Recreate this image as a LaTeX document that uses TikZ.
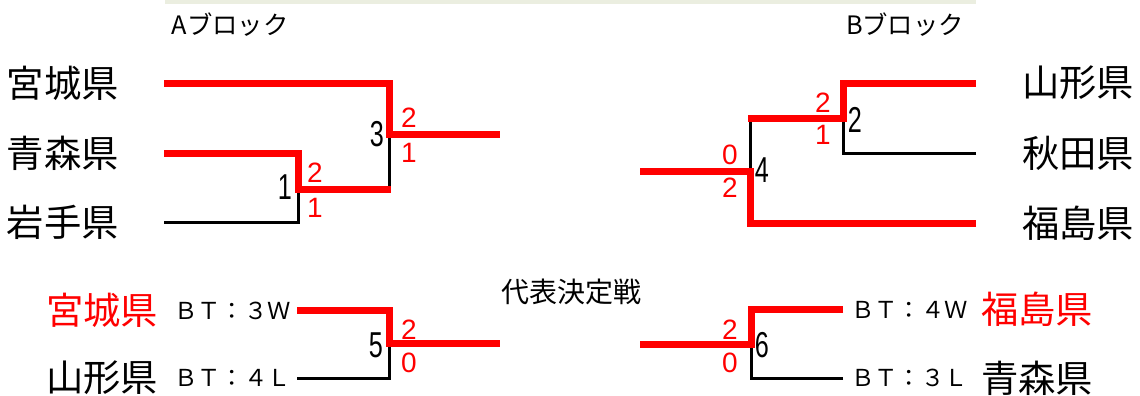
\documentclass[tikz,border=0pt]{standalone}
\usepackage{graphicx}
\usepackage{fontspec}
\setmainfont{Liberation Sans}
\newfontfamily\jpfont{Noto Sans CJK JP}
\newcommand\gnum[1]{\scalebox{0.7}[1]{#1}}
\begin{document}
\begin{tikzpicture}[x=0.75pt,y=-0.75pt,
  win/.style={draw=red, line width=5.25pt, line join=miter},
  lose/.style={draw=black, line width=2.25pt, line join=miter},
  pref/.style={font=\jpfont\fontsize{28}{28}\selectfont, inner sep=0pt},
  bt/.style={font=\jpfont\fontsize{17.5}{17.5}\selectfont, inner sep=0pt, anchor=west},
  blk/.style={font=\jpfont\fontsize{19}{19}\selectfont, inner sep=0pt},
  score/.style={text=red, font=\fontsize{21}{21}\selectfont, inner sep=0pt},
  game/.style={font=\fontsize{27}{27}\selectfont, inner sep=0pt},
  ]
\useasboundingbox (0,0) rectangle (1140,396);
\fill[color={rgb,255:red,235;green,238;blue,224}] (165,0) rectangle (976,4);

% block titles
\node[blk] (tA) at (230,25) {Aブロック};
\node[blk] (tB) at (905,25) {Bブロック};
\node[font=\jpfont\fontsize{21}{21}\selectfont, inner sep=0pt] (tF) at (571,292) {代表決定戦};

% ---------- A block ----------
\node[pref] (nMiyagi) at (63,83) {宮城県};
\node[pref] (nAomori) at (63,153) {青森県};
\node[pref] (nIwate) at (63,222) {岩手県};
\coordinate (a1) at (164,83);
\coordinate (a2) at (164,153);
\coordinate (a3) at (164,222);
\coordinate (m1) at (298,189);
\coordinate (m3) at (389,134);
\coordinate (oA) at (500,134);
\draw[lose] (a3) -| (m1);
\draw[lose] ([yshift=-1]m1 -| m3) -- (m3);
\draw[win] (a2) -| (m1) -- ([xshift=1.5]m1 -| m3);
\draw[win] (a1) -| (m3) -- (oA);
\node[game] (g1) at (285,187) {\gnum{1}};
\node[score] (s1a) at (315,173) {2};
\node[score] (s1b) at (315,208) {1};
\node[game] (g3) at (377,134) {\gnum{3}};
\node[score] (s3a) at (409,118) {2};
\node[score] (s3b) at (409,153) {1};

% ---------- B block ----------
\node[pref] (nYamagata) at (1078,83) {山形県};
\node[pref] (nAkita) at (1078,153) {秋田県};
\node[pref] (nFukushima) at (1078,223) {福島県};
\coordinate (b1) at (976,83);
\coordinate (b2) at (976,153);
\coordinate (b3) at (976,223);
\coordinate (m2) at (843,118);
\coordinate (m4) at (750,171);
\coordinate (oB) at (640,171);
\draw[lose] (b2) -| (m2);
\draw[lose] (m2 -| m4) -- (m4);
\draw[win] (b1) -| (m2) -- ([xshift=-1.5]m2 -| m4);
\draw[win] (b3) -| (m4) -- (oB);
\node[game] (g2) at (855,120) {\gnum{2}};
\node[score] (s2a) at (823,103) {2};
\node[score] (s2b) at (823,135) {1};
\node[game] (g4) at (762,170) {\gnum{4}};
\node[score] (s4a) at (730,155) {0};
\node[score] (s4b) at (730,188) {2};

% ---------- final left ----------
\node[pref, text=red] (fMiyagi) at (102,310) {宮城県};
\node[pref] (fYamagata) at (102,378) {山形県};
\node[bt] (bt1) at (174,311) {ＢＴ：３Ｗ};
\node[bt] (bt2) at (174,378) {ＢＴ：４Ｌ};
\coordinate (f1) at (297,310);
\coordinate (f2) at (297,378);
\coordinate (m5) at (389,343);
\coordinate (oF1) at (500,343);
\draw[lose] (f2) -| (m5);
\draw[win] (f1) -| (m5) -- (oF1);
\node[game] (g5) at (376,345) {\gnum{5}};
\node[score] (s5a) at (409,330) {2};
\node[score] (s5b) at (409,363) {0};

% ---------- final right ----------
\node[pref, text=red] (fFukushima) at (1037,309) {福島県};
\node[pref] (fAomori) at (1037,378) {青森県};
\node[bt] (bt3) at (851,310) {ＢＴ：４Ｗ};
\node[bt] (bt4) at (851,378) {ＢＴ：３Ｌ};
\coordinate (h1) at (843,309);
\coordinate (h2) at (843,378);
\coordinate (m6) at (751,344);
\coordinate (oF2) at (640,344);
\draw[lose] (h2) -| (m6);
\draw[win] (h1) -| (m6) -- (oF2);
\node[game] (g6) at (762,345) {\gnum{6}};
\node[score] (s6a) at (730,330) {2};
\node[score] (s6b) at (730,363) {0};
\end{tikzpicture}
\end{document}
